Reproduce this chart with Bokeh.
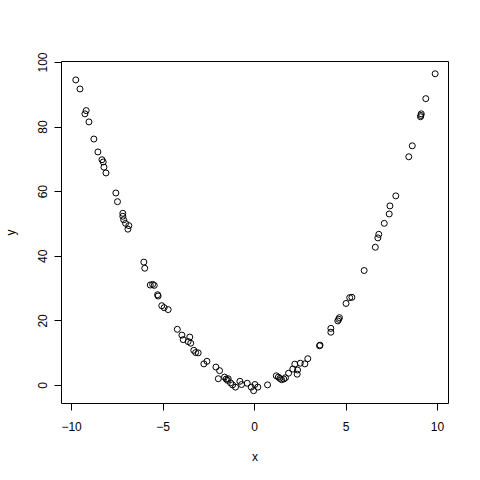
from bokeh.plotting import figure
from bokeh.models import FixedTicker, Range1d
from bokeh.embed import file_html
from bokeh.resources import INLINE

x_vals = [-9.77, -9.54, -9.20, -9.27, -9.05, -8.78, -8.56, -8.34, -8.27, -8.23,
          -8.12, -7.58, -7.49, -7.20, -7.20, -7.15, -7.05, -6.87, -6.92, -6.05,
          -6.00, -5.70, -5.57, -5.48, -5.30, -5.27, -5.07, -4.94, -4.72, -4.22,
          -3.97, -3.90, -3.54, -3.63, -3.49, -3.32, -3.22, -3.08, -2.77, -2.60,
          -2.11, -1.91, -1.98, -1.64, -1.55, -1.44, -1.48, -1.31, -1.20, -1.04,
          -0.80, -0.71, -0.40, -0.18, -0.05, 0.02, 0.18, 0.71, 1.19, 1.30,
          1.38, 1.48, 1.60, 1.69, 1.86, 2.09, 2.33, 2.35, 2.20, 2.50,
          2.75, 2.91, 3.55, 3.58, 4.17, 4.17, 4.55, 4.60, 4.64, 5.00,
          5.20, 5.32, 5.99, 6.60, 6.74, 6.79, 7.09, 7.36, 7.40, 7.72,
          8.43, 8.62, 9.07, 9.11, 9.09, 9.36, 9.87]
y_vals = [94.6, 91.8, 85.1, 84.1, 81.6, 76.3, 72.3, 69.9, 69.2, 67.6,
          65.8, 59.6, 56.9, 53.3, 52.4, 51.3, 50.2, 49.5, 48.4, 38.2,
          36.3, 31.1, 31.3, 31.0, 28.1, 27.7, 24.7, 24.1, 23.5, 17.4,
          15.6, 14.2, 15.0, 13.6, 13.1, 10.9, 10.2, 10.1, 6.7, 7.5,
          5.7, 4.6, 2.1, 2.6, 2.0, 2.1, 1.6, 0.8, 0.2, -0.5,
          1.3, 0.3, 0.7, -0.5, -1.6, 0.3, -0.5, 0.2, 3.0, 2.6,
          2.2, 1.8, 2.0, 2.4, 3.8, 5.1, 3.5, 4.8, 6.6, 6.9,
          6.7, 8.3, 12.3, 12.5, 17.7, 16.5, 20.0, 20.5, 21.0, 25.4,
          27.2, 27.3, 35.6, 42.8, 45.7, 46.8, 50.2, 53.1, 55.6, 58.7,
          70.8, 74.2, 83.2, 84.1, 83.6, 88.8, 96.5]

x_ticks = [-10, -5, 0, 5, 10]
y_ticks = [0, 20, 40, 60, 80, 100]

FONT = "Liberation Sans"

p = figure(width=480, height=480, output_backend="svg", toolbar_location=None,
           x_range=Range1d(-10.55, 10.6), y_range=Range1d(-5.57, 100.3),
           min_border_left=61, min_border_right=32, min_border_top=61, min_border_bottom=77)
p.background_fill_color = "white"
p.border_fill_color = "white"
p.outline_line_color = "black"
p.outline_line_width = 1
p.xgrid.visible = False
p.ygrid.visible = False

p.scatter(x_vals, y_vals, marker="circle", size=6, fill_color=None,
          line_color="black", line_width=1)

for ax in (p.xaxis[0], p.yaxis[0]):
    ax.axis_line_color = None
    ax.major_tick_in = 0
    ax.major_tick_out = 7
    ax.minor_tick_in = 0
    ax.minor_tick_out = 0
    ax.major_tick_line_color = "black"
    ax.major_label_text_font = FONT
    ax.major_label_text_font_size = "12px"
    ax.major_label_text_color = "black"
    ax.axis_label_text_font = FONT
    ax.axis_label_text_font_size = "12px"
    ax.axis_label_text_font_style = "normal"
    ax.axis_label_text_color = "black"

p.xaxis.ticker = FixedTicker(ticks=x_ticks)
p.yaxis.ticker = FixedTicker(ticks=y_ticks)
p.xaxis.axis_label = "x"
p.yaxis.axis_label = "y"
p.xaxis.major_label_standoff = 11
p.xaxis.axis_label_standoff = 16
p.yaxis.major_label_orientation = "vertical"
p.yaxis.major_label_standoff = 7
p.yaxis.axis_label_standoff = 18

open("out.html", "w").write(file_html(p, INLINE))
